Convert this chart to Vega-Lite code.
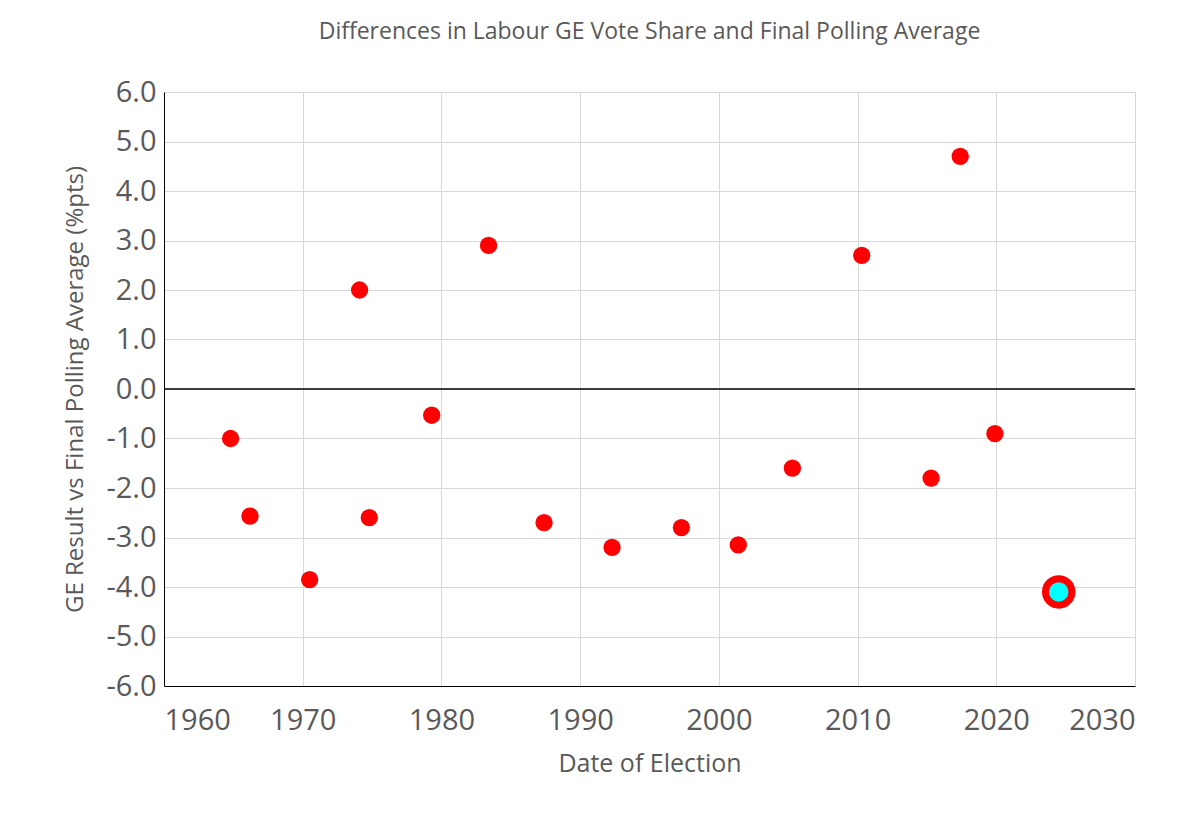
{
"$schema":"https://vega.github.io/schema/vega-lite/v6.json",
"autosize":{"type":"none"},
"width":971,"height":594,
"padding":{"left":164,"top":92,"right":65,"bottom":144},
"background":"white",
"title":{"text":"Differences in Labour GE Vote Share and Final Polling Average","font":"Open Sans","fontSize":23,"fontWeight":"normal","color":"#595959","offset":34,"anchor":"middle"},
"config":{"view":{"stroke":null}},
"data":{"values":[
{"year":1964.8,"diff":-1.0,"latest":"no"},
{"year":1966.2,"diff":-2.57,"latest":"no"},
{"year":1970.5,"diff":-3.85,"latest":"no"},
{"year":1974.1,"diff":2.0,"latest":"no"},
{"year":1974.8,"diff":-2.6,"latest":"no"},
{"year":1979.3,"diff":-0.53,"latest":"no"},
{"year":1983.4,"diff":2.9,"latest":"no"},
{"year":1987.4,"diff":-2.7,"latest":"no"},
{"year":1992.3,"diff":-3.2,"latest":"no"},
{"year":1997.3,"diff":-2.8,"latest":"no"},
{"year":2001.4,"diff":-3.15,"latest":"no"},
{"year":2005.3,"diff":-1.6,"latest":"no"},
{"year":2010.3,"diff":2.7,"latest":"no"},
{"year":2015.3,"diff":-1.8,"latest":"no"},
{"year":2017.4,"diff":4.7,"latest":"no"},
{"year":2019.9,"diff":-0.9,"latest":"no"},
{"year":2024.5,"diff":-4.1,"latest":"yes"}
]},
"encoding":{
"x":{"field":"year","type":"quantitative","scale":{"domain":[1960,2030],"nice":false,"zero":false},
"axis":{"title":"Date of Election","values":[1960,1970,1980,1990,2000,2010,2020,2030],"format":"d","labelFont":"Open Sans","labelFontSize":29,"labelColor":"#595959","titleFont":"Open Sans","titleFontSize":25,"titleFontWeight":"normal","titleColor":"#595959","titlePadding":16,"grid":true,"gridColor":"#d9d9d9","domainColor":"#000000","ticks":false,"labelPadding":20}},
"y":{"field":"diff","type":"quantitative","scale":{"domain":[-6,6],"nice":false},
"axis":{"title":"GE Result vs Final Polling Average (%pts)","values":[-6,-5,-4,-3,-2,-1,0,1,2,3,4,5,6],"labelExpr":"replace(format(datum.value,'.1f'),'−','-')","labelFont":"Open Sans","labelFontSize":29,"labelColor":"#595959","titleFont":"Open Sans","titleFontSize":24,"titleFontWeight":"normal","titleColor":"#595959","titlePadding":18,"grid":true,"gridColor":"#d9d9d9","domainColor":"#000000","ticks":false,"labelPadding":8}}
},
"layer":[
{"data":{"values":[{"z":0}]},"mark":{"type":"rule","color":"#000000","strokeWidth":1.3},"encoding":{"y":{"field":"z","type":"quantitative"},"x":{"value":0},"x2":{"value":971}}},
{"transform":[{"filter":"datum.latest=='no'"}],"mark":{"type":"circle","size":300,"color":"#ff0000","opacity":1}},
{"transform":[{"filter":"datum.latest=='yes'"}],"mark":{"type":"point","shape":"circle","size":700,"fill":"#00ffff","stroke":"#ff0000","strokeWidth":7,"filled":false,"opacity":1}}
]
}
